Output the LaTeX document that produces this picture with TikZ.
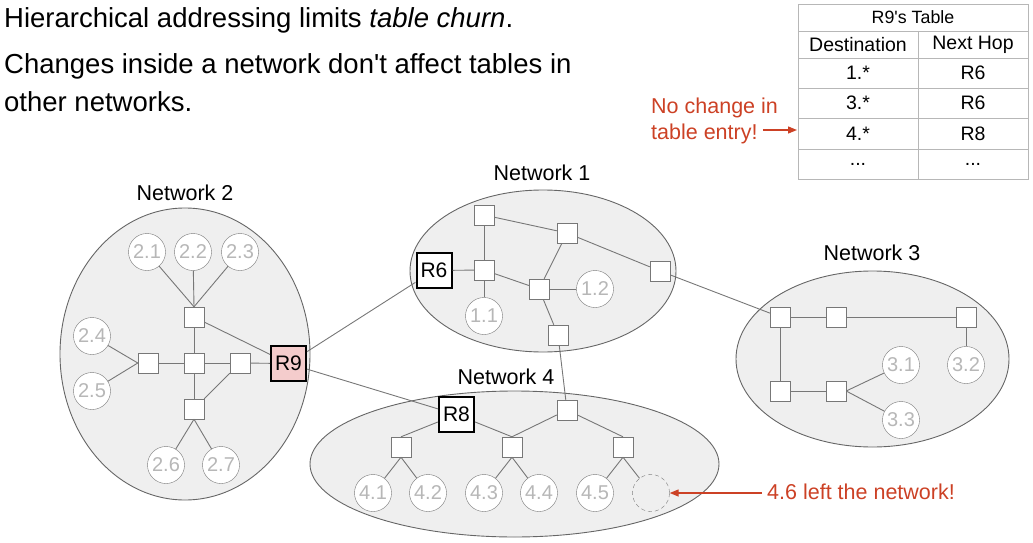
\documentclass[tikz,border=0pt]{standalone}
\usepackage{fontspec}
\setmainfont{Liberation Sans}[Ligatures=TeXOff]
\usetikzlibrary{shapes.geometric,arrows.meta,positioning}

\definecolor{netfill}{HTML}{EFEFEF}
\definecolor{netline}{HTML}{666666}
\definecolor{hostline}{HTML}{777777}
\definecolor{hosttext}{HTML}{B7B7B7}
\definecolor{alertred}{HTML}{CC4125}
\definecolor{rninefill}{HTML}{F4CCCC}
\definecolor{gridgrey}{HTML}{B7B7B7}

\tikzset{
  netblob/.style={ellipse, draw=netline, fill=netfill, line width=0.9pt, inner sep=0pt},
  nettitle/.style={font=\fontsize{21.5}{24}\selectfont},
  host/.style={circle, draw=hostline, fill=white, minimum size=37pt, inner sep=0pt, text=hosttext, font=\fontsize{20}{22}\selectfont},
  gonehost/.style={circle, draw=hostline, dash pattern=on 4pt off 3pt, minimum size=37pt, inner sep=0pt},
  switch/.style={rectangle, draw=hostline, fill=white, minimum size=20pt, inner sep=0pt},
  router/.style={rectangle, draw=black, line width=2pt, fill=white, minimum size=35pt, inner sep=0pt, font=\fontsize{21}{24}\selectfont},
  link/.style={draw=hostline, line width=0.9pt},
  headline/.style={anchor=base west, inner sep=0pt, font=\fontsize{27.5}{32}\selectfont},
  note/.style={text=alertred, font=\fontsize{21.5}{24}\selectfont, inner sep=0pt},
  pointer/.style={draw=alertred, line width=1.3pt, -{Triangle[length=9pt,width=7pt]}},
  cell/.style={font=\fontsize{19.5}{22}\selectfont, inner sep=0pt},
}

\begin{document}
\begin{tikzpicture}[x=1pt, y=-1pt]
    \useasboundingbox (0,0) rectangle (1033,543);

    % Headline text
    \node[headline] (line1) at (4,28) {Hierarchical addressing limits \textit{table churn}.};
    \node[headline] (line2) at (4,74) {Changes inside a network don't affect tables in};
    \node[headline] (line3) at (4,111) {other networks.};

    % R9's table
    \draw[gridgrey] (798,4) rectangle (1028,179);
    \foreach \y in {31,58,88,118,149}
        \draw[gridgrey] (798,\y) -- (1028,\y);
    \draw[gridgrey] (918,31) -- (918,179);
    \node[cell, font=\fontsize{17.8}{20}\selectfont] (tabtitle) at (913,17.5) {R9's Table};
    \node[cell] (deshead) at (858,44.5) {Destination};
    \node[cell] (hophead) at (973,44.5) {Next Hop};
    \node[cell] (dest1) at (858,73) {1.*};
    \node[cell] (hop1) at (973,73) {R6};
    \node[cell] (dest3) at (858,103) {3.*};
    \node[cell] (hop3) at (973,103) {R6};
    \node[cell] (dest4) at (858,133.5) {4.*};
    \node[cell] (hop4) at (973,133.5) {R8};
    \node[cell] (destx) at (858,164) {...};
    \node[cell] (hopx) at (973,164) {...};
    \coordinate (rowfour) at (797,130);

    % Note on the table
    \node[note, anchor=base west] (nochange) at (651,113) {No change in};
    \node[note, anchor=base west] (entry) at (651,139) {table entry!};
    \draw[pointer, shorten <=5pt] (entry.east |- rowfour) -- (rowfour);

    % The four networks
    \node[netblob, minimum width=250pt, minimum height=292pt] (net2) at (185,354) {};
    \node[netblob, minimum width=266pt, minimum height=162pt] (net1) at (543,271) {};
    \node[netblob, minimum width=273pt, minimum height=176pt] (net3) at (872.5,359) {};
    \node[netblob, minimum width=409pt, minimum height=146pt] (net4) at (514.5,464) {};
    \node[nettitle] (title2) at (185,193) {Network 2};
    \node[nettitle] (title1) at (542,173) {Network 1};
    \node[nettitle] (title3) at (872,253) {Network 3};
    \node[nettitle] (title4) at (506,377) {Network 4};

    % Network 2
    \node[host] (n21) at (147,252) {2.1};
    \node[host] (n22) at (193,252) {2.2};
    \node[host] (n23) at (240,252) {2.3};
    \node[host] (n24) at (92,336) {2.4};
    \node[host] (n25) at (92,391) {2.5};
    \node[host] (n26) at (166,465) {2.6};
    \node[host] (n27) at (221,465) {2.7};
    \node[switch] (s2t) at (194,317) {};
    \node[switch] (s2c) at (194,363) {};
    \node[switch] (s2l) at (148,363) {};
    \node[switch] (s2r) at (240,363) {};
    \node[switch] (s2b) at (194,409) {};
    \node[router, fill=rninefill] (r9) at (288.5,363.5) {R9};
    \draw[link] (n21) -- (s2t.north);
    \draw[link] (n22) -- (s2t.north);
    \draw[link] (n23) -- (s2t.north);
    \draw[link] (s2t) -- (s2c);
    \draw[link] (s2c) -- (s2l);
    \draw[link] (s2c) -- (s2r);
    \draw[link] (s2c) -- (s2b);
    \draw[link] (n24) -- (s2l.west);
    \draw[link] (n25) -- (s2l.west);
    \draw[link] (s2r) -- (r9);
    \draw[link] (s2t) -- (r9);
    \draw[link] (s2b) -- (s2r);
    \draw[link] (s2b.south) -- (n26);
    \draw[link] (s2b.south) -- (n27);

    % Network 1
    \node[switch] (s1a) at (484,215) {};
    \node[switch] (s1b) at (567,233) {};
    \node[switch] (s1c) at (484,270) {};
    \node[switch] (s1d) at (539,289) {};
    \node[switch] (s1e) at (660,271) {};
    \node[switch] (s1f) at (558,335) {};
    \node[router] (r6) at (434,270.5) {R6};
    \node[host] (n11) at (484,316) {1.1};
    \node[host] (n12) at (595,289) {1.2};
    \draw[link] (s1a) -- (s1c);
    \draw[link] (s1a) -- (s1b);
    \draw[link] (s1b) -- (s1e);
    \draw[link] (s1b) -- (s1d);
    \draw[link] (s1c) -- (s1d);
    \draw[link] (s1c) -- (n11);
    \draw[link] (s1d) -- (n12);
    \draw[link] (s1d) -- (s1f);
    \draw[link] (r6) -- (s1c);

    % Network 3
    \node[switch] (s3a) at (780,317) {};
    \node[switch] (s3b) at (836,317) {};
    \node[switch] (s3c) at (966,317) {};
    \node[switch] (s3d) at (780,391) {};
    \node[switch] (s3e) at (836,391) {};
    \node[host] (n31) at (901,365) {3.1};
    \node[host] (n32) at (966,365) {3.2};
    \node[host] (n33) at (901,420) {3.3};
    \draw[link] (s3a) -- (s3b);
    \draw[link] (s3b) -- (s3c);
    \draw[link] (s3c) -- (n32);
    \draw[link] (s3a) -- (s3d);
    \draw[link] (s3d) -- (s3e);
    \draw[link] (s3e.east) -- (n31);
    \draw[link] (s3e.east) -- (n33);

    % Network 4
    \node[router] (r8) at (456.5,414.5) {R8};
    \node[switch] (s4u) at (567,410) {};
    \node[switch] (s4a) at (401,447) {};
    \node[switch] (s4b) at (512,447) {};
    \node[switch] (s4c) at (623,447) {};
    \node[host] (n41) at (373,493) {4.1};
    \node[host] (n42) at (428,493) {4.2};
    \node[host] (n43) at (484,493) {4.3};
    \node[host] (n44) at (539,493) {4.4};
    \node[host] (n45) at (595,493) {4.5};
    \node[gonehost] (n46) at (651,493) {};
    \draw[link] (r8) -- (s4a.north);
    \draw[link] (r8) -- (s4b.north);
    \draw[link] (s4u) -- (s4b.north);
    \draw[link] (s4u) -- (s4c.north);
    \draw[link] (s4a.south) -- (n41);
    \draw[link] (s4a.south) -- (n42);
    \draw[link] (s4b.south) -- (n43);
    \draw[link] (s4b.south) -- (n44);
    \draw[link] (s4c.south) -- (n45);
    \draw[link] (s4c.south) -- (n46);

    % Links between networks
    \draw[link] (r9) -- (r6);
    \draw[link] (r9) -- (r8);
    \draw[link] (s1e) -- (s3a);
    \draw[link] (s1f) -- (s4u);

    % Note on the lost host
    \node[note, anchor=base west] (gone) at (767,499) {4.6 left the network!};
    \draw[pointer, shorten <=5pt] (gone.west |- n46.east) -- (n46.east);
\end{tikzpicture}
\end{document}
